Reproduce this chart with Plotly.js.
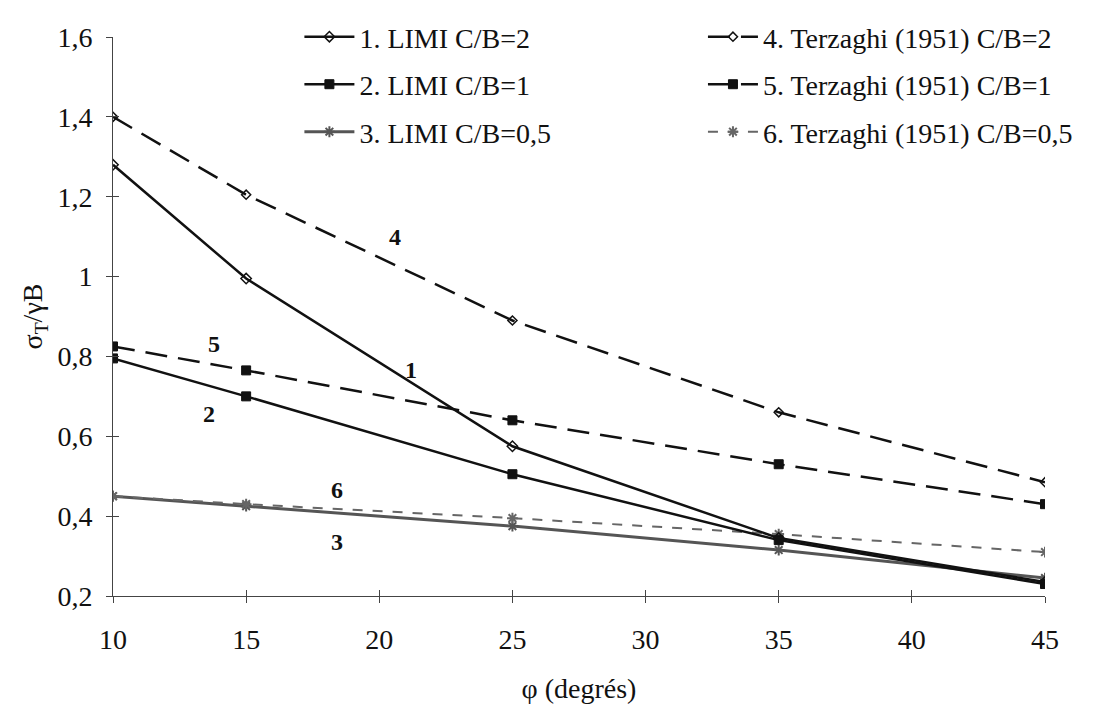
<!DOCTYPE html>
<html>
<head>
<meta charset="utf-8">
<script src="https://cdn.plot.ly/plotly-3.0.1.min.js"></script>
<style>html,body{margin:0;padding:0;background:#fff;}#chart{width:1101px;height:713px;}</style>
</head>
<body>
<div id="chart"></div>
<script>
// Data
const phi = [10, 15, 25, 35, 45];
const limi2 = [1.28, 0.995, 0.575, 0.345, 0.235];
const limi1 = [0.795, 0.70, 0.505, 0.34, 0.23];
const limi05 = [0.45, 0.425, 0.375, 0.315, 0.245];
const terz2 = [1.40, 1.205, 0.89, 0.66, 0.485];
const terz1 = [0.825, 0.765, 0.64, 0.53, 0.43];
const terz05 = [0.45, 0.43, 0.395, 0.355, 0.31];
const names = ["1. LIMI C/B=2", "2. LIMI C/B=1", "3. LIMI C/B=0,5",
               "4. Terzaghi (1951) C/B=2", "5. Terzaghi (1951) C/B=1", "6. Terzaghi (1951) C/B=0,5"];
const curveLabels = ["1", "2", "3", "4", "5", "6"];
const labelX = [21.2, 13.6, 18.4, 20.6, 13.8, 18.4];
const labelY = [0.765, 0.655, 0.335, 1.10, 0.83, 0.465];
const xTicks = [10, 15, 20, 25, 30, 35, 40, 45];
const yTicks = [0.2, 0.4, 0.6, 0.8, 1.0, 1.2, 1.4, 1.6];

const font = "'Liberation Serif', 'Times New Roman', Times, serif";
const black = "#111";

// one legend per entry so the two-column layout can be placed exactly
const legendIds = ["legend", "legend2", "legend3", "legend4", "legend5", "legend6"];

function tr(y, name, dash, color, width, symbol, msize, legend, mlinew) {
  return {
    x: phi, y: y, name: name, type: "scatter", mode: "lines+markers",
    line: {color: color, width: width, dash: dash},
    marker: {symbol: symbol, size: msize, color: color, line: {color: color, width: mlinew}},
    legend: legend, xaxis: "x", yaxis: "y"
  };
}

const data = [
  tr(limi05, names[2], "solid", "#555", 3, "asterisk-open", 9, legendIds[2], 2),
  tr(terz05, names[5], "10px,10px", "#666", 2, "asterisk-open", 9, legendIds[5], 2),
  tr(limi1, names[1], "solid", black, 2.5, "square", 9, legendIds[1], 1),
  tr(terz1, names[4], "22px,11px", black, 2.5, "square", 9, legendIds[4], 1),
  tr(limi2, names[0], "solid", black, 2.5, "diamond-open", 8, legendIds[0], 1.5),
  tr(terz2, names[3], "22px,11px", black, 2.5, "diamond-open", 7, legendIds[3], 1.5)
];

// helper (invisible) trace so the overlay axes draw their crossing ticks
data.push({x: phi, y: limi2, xaxis: "x2", yaxis: "y2", mode: "none", showlegend: false, hoverinfo: "skip"});

const legendX = [0.2, 0.2, 0.2, 0.633, 0.633, 0.633];
const legendY = [1.0, 0.915, 0.83, 1.0, 0.915, 0.83];
function lg(i) {
  return {
    orientation: "v", x: legendX[i], xanchor: "left", y: legendY[i], yanchor: "middle",
    itemwidth: 50, bgcolor: "rgba(0,0,0,0)", borderwidth: 0,
    font: {family: font, size: 28, color: black}
  };
}

const annotations = curveLabels.map((t, i) => ({
  x: labelX[i], y: labelY[i], xref: "x", yref: "y", text: "<b>" + t + "</b>",
  showarrow: false, font: {family: font, size: 24, color: black}
}));

const layout = {
  width: 1101, height: 713,
  margin: {l: 113, r: 56, t: 20, b: 117},
  paper_bgcolor: "#fff", plot_bgcolor: "#fff",
  separators: ", ",
  font: {family: font, size: 28, color: black},
  showlegend: true,
  xaxis: {
    range: [10, 45], tickvals: xTicks,
    showgrid: false, zeroline: false, showline: true, linecolor: "#444", linewidth: 1,
    ticks: "outside", ticklen: 6, tickcolor: "#444", tickwidth: 1, ticklabelstandoff: 12,
    tickfont: {family: font, size: 28, color: black},
    title: {text: "φ (degrés)", font: {family: font, size: 28, color: black}, standoff: 24}
  },
  yaxis: {
    range: [0.2, 1.6], tickvals: yTicks,
    showgrid: false, zeroline: false, showline: true, linecolor: "#444", linewidth: 1,
    ticks: "outside", ticklen: 6, tickcolor: "#444", tickwidth: 1, ticklabelstandoff: 8,
    tickfont: {family: font, size: 28, color: black},
    title: {text: "σ<sub>T</sub>/γB", font: {family: font, size: 28, color: black}, standoff: 6}
  },
  xaxis2: {overlaying: "x", range: [10, 45], tickvals: xTicks, showticklabels: false,
    ticks: "inside", ticklen: 6, tickcolor: "#444", showgrid: false, zeroline: false, showline: false, side: "bottom"},
  yaxis2: {overlaying: "y", range: [0.2, 1.6], tickvals: yTicks, showticklabels: false,
    ticks: "inside", ticklen: 6, tickcolor: "#444", showgrid: false, zeroline: false, showline: false, side: "left"},
  annotations: annotations
};
legendIds.forEach((id, i) => { layout[id] = lg(i); });

Plotly.newPlot("chart", data, layout, {displayModeBar: false, staticPlot: true});
</script>
</body>
</html>
